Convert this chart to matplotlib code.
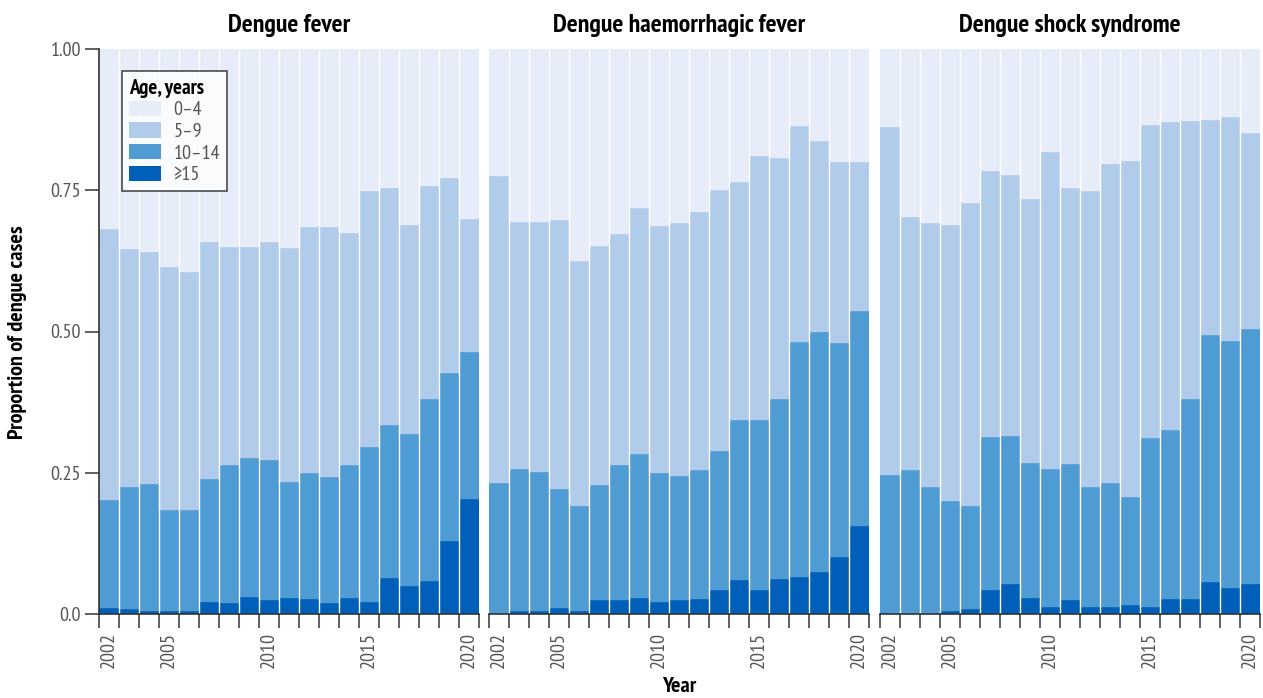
import matplotlib
matplotlib.use("Agg")
import matplotlib.pyplot as plt
from matplotlib.patches import Patch
import numpy as np

plt.rcParams['font.family'] = ['PT Sans Narrow', 'DejaVu Sans']

years = list(range(2002, 2021))
tick_years = [2002, 2005, 2010, 2015, 2020]
panels = ["Dengue fever", "Dengue haemorrhagic fever", "Dengue shock syndrome"]
groups = ["0\u20134", "5\u20139", "10\u201314", "\u226515"]
colors = ["#E6ECF8", "#B1CBEB", "#4F9BD4", "#005FB8"]

# proportions per age group, bottom (>=15) to top (0-4)
df_15 = [0.011, 0.009, 0.005, 0.005, 0.005, 0.021, 0.019, 0.030, 0.025, 0.028,
         0.026, 0.019, 0.028, 0.021, 0.064, 0.050, 0.058, 0.129, 0.204]
df_10_14 = [0.191, 0.216, 0.225, 0.179, 0.179, 0.218, 0.245, 0.246, 0.248, 0.206,
            0.224, 0.224, 0.236, 0.275, 0.271, 0.269, 0.323, 0.298, 0.260]
df_5_9 = [0.479, 0.421, 0.411, 0.430, 0.421, 0.419, 0.386, 0.374, 0.385, 0.414,
          0.435, 0.442, 0.410, 0.453, 0.419, 0.369, 0.377, 0.345, 0.235]
df_0_4 = [0.319, 0.354, 0.359, 0.386, 0.395, 0.342, 0.350, 0.350, 0.342, 0.352,
          0.315, 0.315, 0.326, 0.251, 0.246, 0.312, 0.242, 0.228, 0.301]

dhf_15 = [0.000, 0.005, 0.005, 0.011, 0.005, 0.025, 0.025, 0.028, 0.021, 0.025,
          0.026, 0.042, 0.060, 0.042, 0.062, 0.065, 0.074, 0.101, 0.156]
dhf_10_14 = [0.232, 0.252, 0.246, 0.210, 0.186, 0.203, 0.239, 0.255, 0.229, 0.219,
             0.229, 0.246, 0.283, 0.301, 0.319, 0.416, 0.425, 0.379, 0.380]
dhf_5_9 = [0.543, 0.437, 0.443, 0.476, 0.434, 0.423, 0.409, 0.436, 0.437, 0.448,
           0.456, 0.462, 0.422, 0.468, 0.426, 0.383, 0.338, 0.320, 0.264]
dhf_0_4 = [0.225, 0.306, 0.306, 0.303, 0.375, 0.349, 0.327, 0.281, 0.313, 0.308,
           0.289, 0.250, 0.235, 0.189, 0.193, 0.136, 0.163, 0.200, 0.200]

dss_15 = [0.000, 0.000, 0.000, 0.005, 0.009, 0.042, 0.053, 0.028, 0.012, 0.025,
          0.012, 0.012, 0.016, 0.012, 0.026, 0.026, 0.057, 0.046, 0.053]
dss_10_14 = [0.246, 0.255, 0.225, 0.195, 0.182, 0.271, 0.262, 0.239, 0.245, 0.240,
             0.213, 0.220, 0.191, 0.299, 0.300, 0.355, 0.437, 0.437, 0.451]
dss_5_9 = [0.616, 0.448, 0.467, 0.488, 0.536, 0.471, 0.462, 0.468, 0.561, 0.489,
           0.524, 0.564, 0.595, 0.554, 0.545, 0.492, 0.380, 0.397, 0.347]
dss_0_4 = [0.138, 0.297, 0.308, 0.312, 0.273, 0.216, 0.223, 0.265, 0.182, 0.246,
           0.251, 0.204, 0.198, 0.135, 0.129, 0.127, 0.126, 0.120, 0.149]

data = [
    [df_0_4, df_5_9, df_10_14, df_15],
    [dhf_0_4, dhf_5_9, dhf_10_14, dhf_15],
    [dss_0_4, dss_5_9, dss_10_14, dss_15],
]

W, H = 1263, 698
fig = plt.figure(figsize=(W / 100, H / 100), dpi=100)
lefts = [99, 489, 880]
axw = 380
bottom_px, top_px = 614, 49
axes = []
tick_col = "#555555"
for k, (title, series) in enumerate(zip(panels, data)):
    ax = fig.add_axes([lefts[k] / W, 1 - bottom_px / H, axw / W, (bottom_px - top_px) / H])
    axes.append(ax)
    x = np.array(years)
    base = np.zeros(len(years))
    # stack from >=15 at bottom up to 0-4 at top
    for gi in [3, 2, 1, 0]:
        vals = np.array(series[gi])
        ax.bar(x, vals, width=1.0, bottom=base, color=colors[gi],
               edgecolor=colors[gi], linewidth=0.3)
        base = base + vals
    # white separators between the bars
    for e in x[1:] - 0.5:
        ax.axvline(e, color="white", linewidth=1.0, zorder=3)
    ax.set_xlim(2001.5, 2020.5)
    ax.set_ylim(0, 1)
    ax.set_title(title, fontsize=18.5, fontweight="bold", pad=12)
    for s in ["top", "right"]:
        ax.spines[s].set_visible(False)
    ax.spines["bottom"].set_color("#333333")
    ax.spines["bottom"].set_linewidth(1.2)
    ax.spines["bottom"].set_zorder(4)
    ax.set_xticks(tick_years)
    ax.set_xticklabels([str(y) for y in tick_years], rotation=90,
                       fontsize=14.5, color=tick_col)
    ax.tick_params(axis="x", which="major", length=0, pad=13)
    ax.set_xticks(np.arange(2001.5, 2021, 1.0), minor=True)
    ax.tick_params(axis="x", which="minor", length=10, width=1.2, color="#444444")
    if k == 0:
        ax.spines["left"].set_color("#333333")
        ax.spines["left"].set_linewidth(1.2)
        ax.set_yticks([0, 0.25, 0.5, 0.75, 1.0])
        ax.set_yticklabels(["0.0", "0.25", "0.50", "0.75", "1.00"],
                           fontsize=14.5, color=tick_col)
        ax.tick_params(axis="y", length=10, width=1.2, color="#444444", pad=3)
    else:
        ax.spines["left"].set_visible(False)
        ax.set_yticks([])

handles = [Patch(facecolor=c, edgecolor="none") for c in colors]
leg = axes[0].legend(handles, groups, title="Age, years", loc="upper left",
                     bbox_to_anchor=(0.034, 0.978), fontsize=14.5,
                     title_fontproperties={"weight": "bold", "size": 15},
                     frameon=True, fancybox=False, edgecolor="#222222",
                     handlelength=1.6, handleheight=0.8, labelspacing=0.15,
                     borderpad=0.35, handletextpad=0.6)
leg.get_frame().set_linewidth(1.2)
leg.set_zorder(10)
leg._legend_box.align = "left"
for t in leg.get_texts():
    t.set_color(tick_col)

fig.text(18 / W, 1 - 332 / H, "Proportion of dengue cases", rotation=90,
         ha="center", va="center", fontsize=16, fontweight="bold")
fig.text(679 / W, 1 - 686 / H, "Year", ha="center", va="center",
         fontsize=16, fontweight="bold")

fig.savefig("out.png", dpi=100)
